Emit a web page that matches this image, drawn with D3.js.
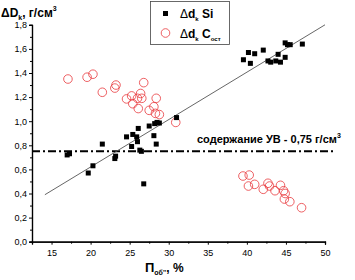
<!DOCTYPE html>
<html>
<head>
<meta charset="utf-8">
<script src="https://cdn.jsdelivr.net/npm/d3@7"></script>
<style>
  body { margin: 0; background: #fff; }
  svg { display: block; font-family: "Liberation Sans", Arial, sans-serif; }
  .tick-lbl { font-size: 9px; fill: #000; }
  .bold { font-weight: bold; }
</style>
</head>
<body>
<div id="chart"></div>
<script>
// Δd_k Si  (black squares)
const siX = [17.0, 17.3, 19.7, 20.3, 21.5, 23.1, 23.2, 24.6, 25.25, 25.4, 25.9, 26.0, 26.1, 26.3, 26.5, 26.8, 27.5, 28.1, 28.4, 28.2, 28.5, 28.8, 31.0,
             39.56, 40.2, 41.0, 40.45, 42.1, 42.7, 43.05, 43.7, 44.0, 44.3, 44.9, 44.9, 45.2, 45.55, 47.1]
const siY = [0.72, 0.73, 0.57, 0.63, 0.81, 0.69, 0.71, 0.87, 0.79, 0.89, 0.87, 0.83, 0.94, 0.76, 0.75, 0.48, 0.96, 0.88, 0.81, 0.98, 0.99, 0.985, 1.03,
             1.51, 1.57, 1.56, 1.48, 1.59, 1.50, 1.49, 1.50, 1.555, 1.49, 1.53, 1.65, 1.635, 1.635, 1.64]

// Δd_k C_ост  (red circles)
const cX = [17.1, 19.55, 20.3, 21.5, 23.1, 23.25, 26.8, 24.6, 25.25, 25.4, 26.0, 26.1, 26.4, 26.55, 28.4, 27.5, 28.1, 28.3, 28.8, 30.9,
            39.5, 40.3, 40.2, 41.0, 42.1, 42.7, 42.9, 43.6, 44.3, 44.7, 44.9, 44.8, 45.5, 47.0]
const cY = [1.35, 1.365, 1.39, 1.24, 1.275, 1.30, 1.32, 1.185, 1.21, 1.145, 1.19, 1.105, 1.23, 1.19, 1.19, 1.09, 1.12, 1.065, 1.055, 0.99,
            0.545, 0.553, 0.462, 0.476, 0.435, 0.485, 0.462, 0.423, 0.468, 0.423, 0.40, 0.354, 0.332, 0.282]

// linear fit, drawn between these two x values
const fitX = [14.15, 50]
const fitY = [0.39, 1.80]

const levelY = 0.75
const levelXEnd = 51.3

const xMajor = [15, 20, 25, 30, 35, 40, 45, 50]
const xMinor = [12.5, 17.5, 22.5, 27.5, 32.5, 37.5, 42.5, 47.5]
const yMajor = [0, 0.2, 0.4, 0.6, 0.8, 1.0, 1.2, 1.4, 1.6, 1.8]
const yMinor = [0.1, 0.3, 0.5, 0.7, 0.9, 1.1, 1.3, 1.5, 1.7]

const W = 355, H = 280
const svg = d3.select('#chart').append('svg')
  .attr('width', W).attr('height', H)

const x = d3.scaleLinear().domain([12.5, 50]).range([32, 325])
const y = d3.scaleLinear().domain([0, 1.8]).range([241.7, 24.8])

const comma = d => d.toFixed(1).replace('.', ',')

// axes
let xAx = svg.append('g').attr('transform', 'translate(0,' + y(0) + ')')
  .call(d3.axisBottom(x).tickValues(xMajor).tickSize(3).tickFormat(d3.format('d')))
xAx.append('g').call(d3.axisBottom(x).tickValues(xMinor).tickSize(2).tickFormat(''))
xAx.selectAll('.domain').attr('stroke', '#000').attr('stroke-width', 1.2)
xAx.selectAll('text').attr('class', 'tick-lbl').attr('font-size', null).attr('font-family', null).attr('dy', '0.9em')

let yAx = svg.append('g').attr('transform', 'translate(' + x(12.5) + ',0)')
  .call(d3.axisLeft(y).tickValues(yMajor).tickSize(3).tickFormat(comma))
yAx.append('g').call(d3.axisLeft(y).tickValues(yMinor).tickSize(2).tickFormat(''))
yAx.selectAll('.domain').attr('stroke', '#000').attr('stroke-width', 1.2)
yAx.selectAll('text').attr('class', 'tick-lbl').attr('font-size', null).attr('font-family', null).attr('x', -5)

// level line (dash-dot)
svg.append('line')
  .attr('x1', x(12.5)).attr('x2', x(levelXEnd))
  .attr('y1', y(levelY)).attr('y2', y(levelY))
  .attr('stroke', '#000').attr('stroke-width', 2)
  .attr('stroke-dasharray', '8,3,2,3')

// fit line
svg.append('line')
  .attr('x1', x(fitX[0])).attr('y1', y(fitY[0]))
  .attr('x2', x(fitX[1])).attr('y2', y(fitY[1]))
  .attr('stroke', '#555').attr('stroke-width', 0.9)

// red circles
svg.append('g').selectAll('circle')
  .data(cX.map((v, i) => [v, cY[i]]))
  .enter().append('circle')
  .attr('cx', d => x(d[0])).attr('cy', d => y(d[1]))
  .attr('r', 4.3)
  .attr('fill', 'none').attr('stroke', '#e8383c').attr('stroke-width', 0.8)

// black squares
const sq = 5
svg.append('g').selectAll('rect')
  .data(siX.map((v, i) => [v, siY[i]]))
  .enter().append('rect')
  .attr('x', d => x(d[0]) - sq / 2).attr('y', d => y(d[1]) - sq / 2)
  .attr('width', sq).attr('height', sq)
  .attr('fill', '#000')

// y title
let yt = svg.append('text').attr('class', 'bold').attr('x', 1).attr('y', 17).attr('font-size', 12)
yt.append('tspan').text('ΔD')
yt.append('tspan').attr('font-size', 7).attr('dy', 3).text('k')
yt.append('tspan').attr('dy', -3).text(', г/см')
yt.append('tspan').attr('font-size', 7).attr('dy', -6).text('3')

// x title
let xt = svg.append('text').attr('class', 'bold').attr('x', 145).attr('y', 272).attr('font-size', 13)
xt.append('tspan').text('П')
xt.append('tspan').attr('font-size', 7).attr('dy', 3).text('об\'\'')
xt.append('tspan').attr('dy', -3).attr('font-size', 12).text(', %')

// level annotation
let lt = svg.append('text').attr('class', 'bold').attr('x', 197).attr('y', 143).attr('font-size', 11)
lt.append('tspan').text('содержание УВ - 0,75 г/см')
lt.append('tspan').attr('font-size', 7).attr('dy', -5).text('3')

// legend
const lg = svg.append('g')
lg.append('rect').attr('x', 150.5).attr('y', 1.5).attr('width', 79).attr('height', 43)
  .attr('fill', '#fff').attr('stroke', '#444').attr('stroke-width', 0.8)
lg.append('rect').attr('x', 163).attr('y', 11).attr('width', sq).attr('height', sq).attr('fill', '#000')
lg.append('circle').attr('cx', 165.5).attr('cy', 33).attr('r', 4.3)
  .attr('fill', 'none').attr('stroke', '#e8383c').attr('stroke-width', 0.8)

let l1 = lg.append('text').attr('class', 'bold').attr('x', 180).attr('y', 18).attr('font-size', 12)
l1.append('tspan').attr('font-weight', 'normal').text('Δ')
l1.append('tspan').text('d')
l1.append('tspan').attr('font-size', 6).attr('dy', 3).text('k')
l1.append('tspan').attr('dy', -3).text(' Si')

let l2 = lg.append('text').attr('class', 'bold').attr('x', 180).attr('y', 38).attr('font-size', 12)
l2.append('tspan').attr('font-weight', 'normal').text('Δ')
l2.append('tspan').text('d')
l2.append('tspan').attr('font-size', 6).attr('dy', 3).text('k')
l2.append('tspan').attr('dy', -3).text(' C')
l2.append('tspan').attr('font-size', 6).attr('dy', 3).text('ост')
</script>
</body>
</html>
